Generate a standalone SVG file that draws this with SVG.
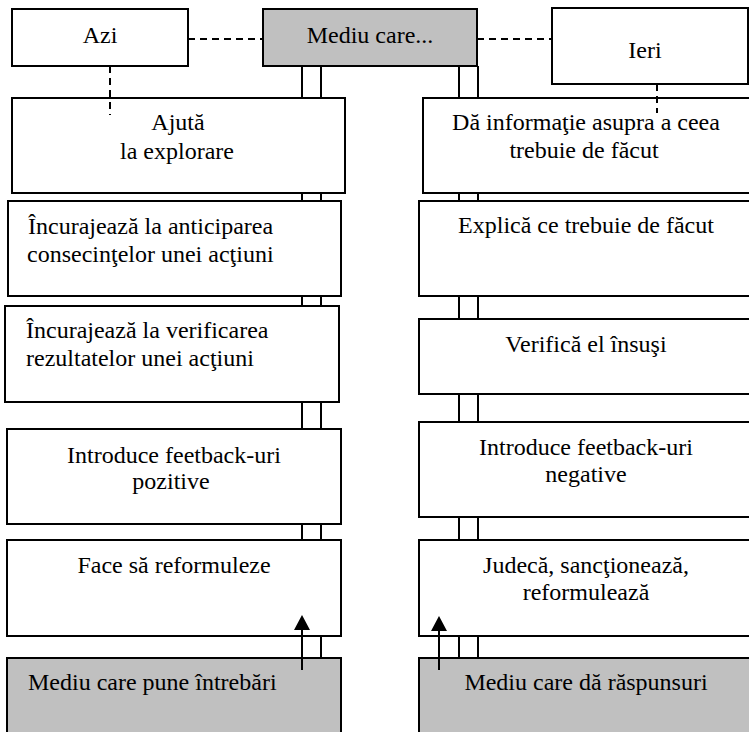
<svg xmlns="http://www.w3.org/2000/svg" width="749" height="732" viewBox="0 0 749 732" font-family="'Liberation Serif', 'Times New Roman', 'DejaVu Serif', serif">
<style>
.box{fill:#ffffff;stroke:#000;stroke-width:2}
.gray{fill:#c0c0c0;stroke:#000;stroke-width:2}
text{font-family:'Liberation Serif','Times New Roman','DejaVu Serif',serif;font-size:24px;fill:#000}
.c{text-anchor:middle}
.rail{stroke:#000;stroke-width:2;fill:none}
.dash{stroke:#000;stroke-width:2;stroke-dasharray:7,5;fill:none}
</style>
<rect width="749" height="732" fill="#fff"/>
<g id="connectors">
<line class="rail" x1="302" y1="66" x2="302" y2="658"/>
<line class="rail" x1="321" y1="66" x2="321" y2="658"/>
<line class="rail" x1="459" y1="66" x2="459" y2="658"/>
<line class="rail" x1="478" y1="66" x2="478" y2="658"/>
<line class="dash" x1="188" y1="39" x2="263" y2="39"/>
<line class="dash" x1="477" y1="39" x2="573" y2="39"/>
</g>
<g id="azi"><rect class="box" x="12" y="9" width="176" height="57"/><text class="c" x="100" y="43">Azi</text></g>
<g id="mediu"><rect class="gray" x="263" y="9" width="214" height="57"/><text class="c" x="370" y="43">Mediu care...</text></g>
<g id="ieri"><rect class="box" x="552" y="8" width="196" height="76"/><text class="c" x="645" y="58">Ieri</text></g>
<g id="l1"><rect class="box" x="12" y="98" width="333" height="95"/><text class="c" x="178" y="130">Ajută</text><text class="c" x="177" y="159">la explorare</text></g>
<g id="l2"><rect class="box" x="8" y="201" width="333" height="95"/><text x="28" y="234">Încurajează la anticiparea</text><text x="27" y="262">consecinţelor unei acţiuni</text></g>
<g id="l3"><rect class="box" x="5" y="306" width="334" height="96"/><text x="26" y="338">Încurajează la verificarea</text><text x="26" y="366">rezultatelor unei acţiuni</text></g>
<g id="l4"><rect class="box" x="7" y="429" width="334" height="95"/><text class="c" x="174" y="463">Introduce feetback-uri</text><text class="c" x="171" y="489">pozitive</text></g>
<g id="l5"><rect class="box" x="7" y="540" width="334" height="96"/><text class="c" x="174" y="573">Face să reformuleze</text></g>
<g id="l6"><rect class="gray" x="7" y="658" width="334" height="90"/><text x="28" y="690">Mediu care pune întrebări</text></g>
<g id="r1"><rect class="box" x="423" y="98" width="340" height="95"/><text class="c" x="586" y="130">Dă informaţie asupra a ceea</text><text class="c" x="584" y="158">trebuie de făcut</text></g>
<g id="r2"><rect class="box" x="419" y="201" width="344" height="95"/><text class="c" x="586" y="233">Explică ce trebuie de făcut</text></g>
<g id="r3"><rect class="box" x="419" y="319" width="344" height="75"/><text class="c" x="586" y="352">Verifică el însuşi</text></g>
<g id="r4"><rect class="box" x="419" y="422" width="344" height="95"/><text class="c" x="586" y="455">Introduce feetback-uri</text><text class="c" x="586" y="482">negative</text></g>
<g id="r5"><rect class="box" x="419" y="540" width="344" height="96"/><text class="c" x="586" y="573">Judecă, sancţionează,</text><text class="c" x="586" y="600">reformulează</text></g>
<g id="r6"><rect class="gray" x="419" y="658" width="344" height="90"/><text class="c" x="586" y="690">Mediu care dă răspunsuri</text></g>
<g id="connectors-front">
<line class="dash" x1="110" y1="66" x2="110" y2="115"/>
<line class="dash" x1="657" y1="84" x2="657" y2="113"/>
<line class="rail" x1="302" y1="670" x2="302" y2="628"/>
<path d="M294,630 L302,615 L310,630 Z" fill="#000"/>
<line class="rail" x1="439" y1="670" x2="439" y2="629"/>
<path d="M431,631 L439,616 L447,631 Z" fill="#000"/>
</g>
</svg>
